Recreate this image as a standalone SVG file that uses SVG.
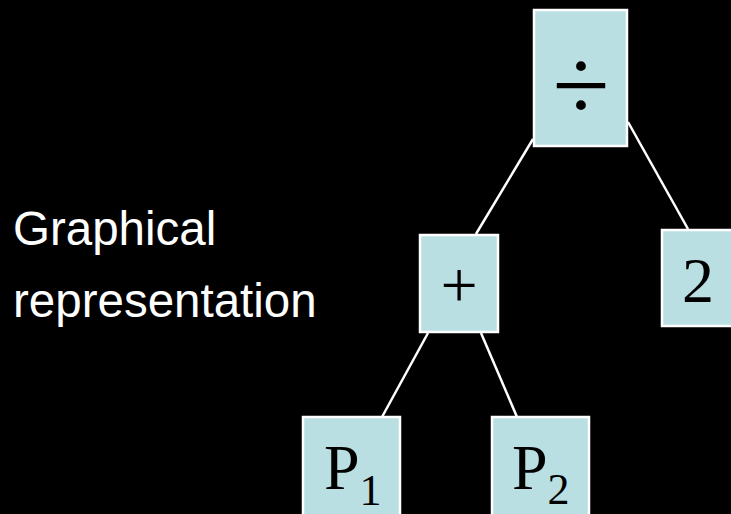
<svg xmlns="http://www.w3.org/2000/svg" width="731" height="514" viewBox="0 0 731 514">
<style>
.box{fill:#BADFE2;stroke:#FFFFFF;stroke-width:2.5}
.conn{stroke:#FFFFFF;stroke-width:2.5;fill:none}
.lbl{font-family:"Liberation Serif","Times New Roman",serif;font-size:64px;fill:#000000}
.side{font-family:"Liberation Sans",Arial,sans-serif;font-size:47.5px;fill:#FFFFFF}
.sub{font-size:44px}
</style>
<rect x="0" y="0" width="731" height="514" fill="#000000"/>
<g id="connectors">
<line class="conn" x1="533" y1="139" x2="476" y2="234"/>
<line class="conn" x1="628" y1="122" x2="688" y2="229"/>
<line class="conn" x1="428" y1="333" x2="382" y2="417"/>
<line class="conn" x1="481" y1="333" x2="517" y2="417"/>
</g>
<g id="caption">
<text class="side" x="13" y="245">Graphical</text>
<text class="side" x="13" y="317">representation</text>
</g>
<g id="node-divide">
<rect class="box" x="534" y="10" width="93" height="136"/>
<text class="lbl" x="581" y="120" text-anchor="middle" style="font-size:104px">÷</text>
</g>
<g id="node-plus">
<rect class="box" x="420" y="235" width="78" height="97"/>
<text class="lbl" x="459" y="307" text-anchor="middle" style="font-size:66px">+</text>
</g>
<g id="node-2">
<rect class="box" x="662" y="230" width="80" height="96"/>
<text class="lbl" x="698" y="302" text-anchor="middle">2</text>
</g>
<g id="node-p1">
<rect class="box" x="303" y="417" width="97" height="110"/>
<text class="lbl" x="324" y="489">P<tspan class="sub" dy="16">1</tspan></text>
</g>
<g id="node-p2">
<rect class="box" x="492" y="417" width="97" height="110"/>
<text class="lbl" x="512" y="489">P<tspan class="sub" dy="15">2</tspan></text>
</g>
</svg>
